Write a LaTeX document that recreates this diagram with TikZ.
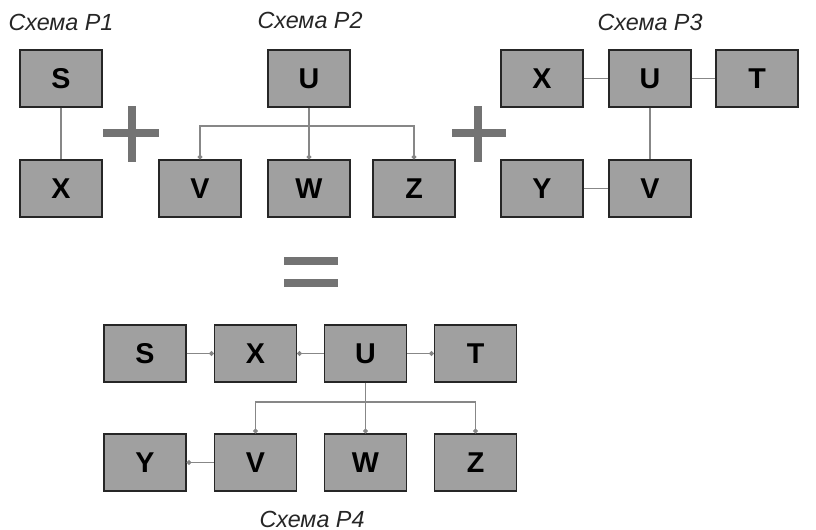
\documentclass[tikz,border=0pt]{standalone}
\usepackage{fontspec}
\setmainfont{Liberation Sans}
\usetikzlibrary{arrows.meta}
\definecolor{boxgray}{RGB}{160,160,160}
\definecolor{linegray}{RGB}{135,135,135}
\definecolor{signgray}{RGB}{115,115,115}
\begin{document}
\begin{tikzpicture}[
            x=0.75pt,y=-0.75pt,
            block/.style={draw=black!85,fill=boxgray,line width=1.1pt,
              minimum width=61.5pt,minimum height=42.75pt,inner sep=0pt,
              font=\fontsize{21.5}{25}\selectfont\bfseries},
            title/.style={font=\fontsize{17.5}{21}\selectfont\itshape,text=black!85},
            link/.style={draw=linegray,line width=1pt},
            dot/.style={-{Circle[length=3.5pt,fill=linegray]}},
            sign/.style={fill=signgray}
            ]
            \useasboundingbox (0,0) rectangle (816,530);
            % Schema P1
            \node[title] (t1) at (61,22) {Схема P1};
            \node[block] (s1) at (61,78.5) {S};
            \node[block] (x1) at (61,188.5) {X};
            \draw[link] (s1) -- (x1);
            % plus
            \fill[sign] (103,129) rectangle (159,137);
            \fill[sign] (128,106) rectangle (136,162);
            % Schema P2
            \node[title] (t2) at (310,20) {Схема P2};
            \node[block] (u2) at (309,78.5) {U};
            \node[block] (v2) at (200,188.5) {V};
            \node[block] (w2) at (309,188.5) {W};
            \node[block] (z2) at (414,188.5) {Z};
            \coordinate (b2) at (309,126);
            \draw[link,dot] (u2) -- (w2);
            \draw[link,{Circle[length=3.5pt,fill=linegray]}-{Circle[length=3.5pt,fill=linegray]}]
              (v2.north) |- (b2) -| (z2.north);
            % plus
            \fill[sign] (452,129) rectangle (506,137);
            \fill[sign] (474,106) rectangle (482,162);
            % Schema P3
            \node[title] (t3) at (650,22) {Схема P3};
            \node[block] (x3) at (542,78.5) {X};
            \node[block] (u3) at (650,78.5) {U};
            \node[block] (t3b) at (757,78.5) {T};
            \node[block] (y3) at (542,188.5) {Y};
            \node[block] (v3) at (650,188.5) {V};
            \draw[link] (x3) -- (u3);
            \draw[link] (u3) -- (t3b);
            \draw[link] (u3) -- (v3);
            \draw[link] (y3) -- (v3);
            % equals
            \fill[sign] (284,257) rectangle (338,265);
            \fill[sign] (284,279) rectangle (338,287);
            % Schema P4
            \node[block] (s4) at (145,353.5) {S};
            \node[block] (x4) at (255.5,353.5) {X};
            \node[block] (u4) at (365.5,353.5) {U};
            \node[block] (t4) at (475.5,353.5) {T};
            \node[block] (y4) at (145,462.5) {Y};
            \node[block] (v4) at (255.5,462.5) {V};
            \node[block] (w4) at (365.5,462.5) {W};
            \node[block] (z4) at (475.5,462.5) {Z};
            \coordinate (b4) at (365.5,402);
            \draw[link,dot] (s4) -- (x4);
            \draw[link,dot] (u4) -- (x4);
            \draw[link,dot] (u4) -- (t4);
            \draw[link,dot] (v4) -- (y4);
            \draw[link,dot] (u4) -- (w4);
            \draw[link,{Circle[length=3.5pt,fill=linegray]}-{Circle[length=3.5pt,fill=linegray]}]
              (v4.north) |- (b4) -| (z4.north);
            \node[title] (t4b) at (312,519) {Схема P4};
        \end{tikzpicture}
\end{document}
